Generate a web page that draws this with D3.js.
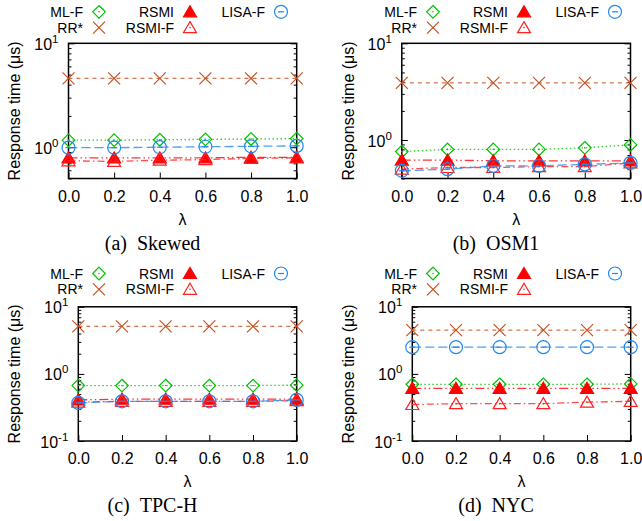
<!DOCTYPE html>
<html><head><meta charset="utf-8">
<script src="https://cdn.jsdelivr.net/npm/d3@7"></script>
<style>body{margin:0;background:#fff}svg{display:block}</style>
</head><body><svg id="c" width="642" height="521"></svg>
<script>
// ---- data ----
const lambdas = [0, 0.2, 0.4, 0.6, 0.8, 1.0];
const xTickLabels = ["0.0", "0.2", "0.4", "0.6", "0.8", "1.0"];
const seriesNames = ["ML-F", "RR*", "RSMI", "RSMI-F", "LISA-F"];
const legendRow1 = ["ML-F", "RSMI", "LISA-F"];
const legendRow2 = ["RR*", "RSMI-F"];
const captionLetters = ["(a)", "(b)", "(c)", "(d)"];
const captionNames = ["Skewed", "OSM1", "TPC-H", "NYC"];
const yTitle = "Response time (μs)";
const xTitle = "λ";

// values per series, in seriesNames order
const skewed = [
  [1.17, 1.17, 1.18, 1.19, 1.20, 1.21],
  [4.6, 4.6, 4.6, 4.6, 4.6, 4.6],
  [0.79, 0.79, 0.79, 0.79, 0.80, 0.80],
  [0.74, 0.73, 0.75, 0.76, 0.78, 0.79],
  [0.99, 0.99, 1.00, 1.01, 1.02, 1.03]
];
const osm1 = [
  [0.76, 0.80, 0.80, 0.80, 0.83, 0.89],
  [3.9, 3.9, 3.9, 3.9, 3.9, 3.9],
  [0.62, 0.62, 0.61, 0.61, 0.61, 0.61],
  [0.50, 0.52, 0.52, 0.53, 0.53, 0.58],
  [0.48, 0.50, 0.54, 0.54, 0.56, 0.58]
];
const tpch = [
  [0.67, 0.67, 0.67, 0.67, 0.67, 0.68],
  [5.1, 5.1, 5.1, 5.1, 5.1, 5.1],
  [0.41, 0.42, 0.42, 0.42, 0.42, 0.42],
  [0.38, 0.39, 0.39, 0.39, 0.39, 0.40],
  [0.37, 0.39, 0.39, 0.39, 0.39, 0.41]
];
const nyc = [
  [0.70, 0.70, 0.70, 0.70, 0.70, 0.71],
  [4.5, 4.5, 4.5, 4.5, 4.5, 4.5],
  [0.61, 0.61, 0.61, 0.61, 0.61, 0.61],
  [0.35, 0.36, 0.36, 0.36, 0.38, 0.39],
  [2.5, 2.5, 2.5, 2.5, 2.5, 2.5]
];
const yDomains = [[0.5, 10], [0.4, 10], [0.1, 10], [0.1, 10]];

// ---- styles ----
const styles = {
  "ML-F":   {color: "#00c000", dash: "1.5,2.5", marker: "diamond"},
  "RR*":    {color: "#c8501e", dash: "4,4", marker: "cross"},
  "RSMI":   {color: "#ff0000", dash: "9,3,1.5,3,1.5,3", marker: "tri"},
  "RSMI-F": {color: "#ff2020", dash: "7,3,1.5,3", marker: "otri"},
  "LISA-F": {color: "#2288ee", dash: "9,4", marker: "circle"}
};
const SANS = "'Liberation Sans', Arial, Helvetica, sans-serif";
const SERIF = "'Liberation Serif', 'Times New Roman', serif";

const svg = d3.select("#c");

function drawMarker(g, type, color, cx, cy) {
  const m = g.append("g").attr("transform", `translate(${cx},${cy})`);
  if (type === "diamond") {
    m.append("path").attr("d", "M0,-6.3L6.3,0L0,6.3L-6.3,0Z").attr("fill", "none").attr("stroke", color).attr("stroke-width", 1.2);
    m.append("circle").attr("r", 0.8).attr("fill", color);
  } else if (type === "cross") {
    m.append("path").attr("d", "M-6,-6L6,6M-6,6L6,-6").attr("fill", "none").attr("stroke", color).attr("stroke-width", 1.2);
  } else if (type === "tri") {
    m.append("path").attr("d", "M0,-6L6.5,5L-6.5,5Z").attr("fill", color).attr("stroke", color).attr("stroke-width", 1.2);
  } else if (type === "otri") {
    m.append("path").attr("d", "M0,-6L6.5,5L-6.5,5Z").attr("fill", "none").attr("stroke", color).attr("stroke-width", 1.2);
    m.append("circle").attr("r", 0.8).attr("fill", color);
  } else if (type === "circle") {
    m.append("circle").attr("r", 6.5).attr("fill", "none").attr("stroke", color).attr("stroke-width", 1.2);
    m.append("path").attr("d", "M-3,0L3,0").attr("stroke", color).attr("stroke-width", 1.2);
  }
}

function drawPanel(idx, data, geo) {
  const g = svg.append("g");
  const x = d3.scaleLinear().domain([0, 1]).range([geo.x0, geo.x1]);
  const y = d3.scaleLog().domain(yDomains[idx]).range([geo.y1, geo.y0]);
  const [lo, hi] = yDomains[idx];
  const majors = [0.1, 1, 10].filter(v => v >= lo - 1e-9 && v <= hi + 1e-9);
  const minors = [];
  [0.1, 1].forEach(dec => { for (let k = 2; k <= 9; k++) { const v = dec * k; if (v >= lo - 1e-9 && v <= hi + 1e-9) minors.push(v); } });

  // axes (ticks only)
  const xa = g.append("g").attr("transform", `translate(0,${geo.y1})`)
    .call(d3.axisBottom(x).tickValues(lambdas).tickSize(-6).tickPadding(12).tickFormat((d, i) => xTickLabels[i]));
  const yl = g.append("g").attr("transform", `translate(${geo.x0},0)`)
    .call(d3.axisLeft(y).tickValues(majors).tickSize(-6).tickFormat(() => ""));
  const ylm = g.append("g").attr("transform", `translate(${geo.x0},0)`)
    .call(d3.axisLeft(y).tickValues(minors).tickSize(-3).tickFormat(() => ""));
  const yr = g.append("g").attr("transform", `translate(${geo.x1},0)`)
    .call(d3.axisRight(y).tickValues(majors).tickSize(-6).tickFormat(() => ""));
  const yrm = g.append("g").attr("transform", `translate(${geo.x1},0)`)
    .call(d3.axisRight(y).tickValues(minors).tickSize(-3).tickFormat(() => ""));
  [xa, yl, ylm, yr, yrm].forEach(a => {
    a.select(".domain").remove();
    a.selectAll("line").attr("stroke", "#000").attr("stroke-width", 1);
  });
  xa.selectAll("text").attr("font-family", SANS).attr("font-size", 16).attr("fill", "#000");

  // y tick labels with superscripts
  majors.forEach(v => {
    const e = Math.round(Math.log10(v));
    const t = g.append("text").attr("x", geo.x0 - 10).attr("y", y(v) + 6.5)
      .attr("text-anchor", "end").attr("font-family", SANS).attr("font-size", 16).attr("fill", "#000");
    t.append("tspan").text("10");
    t.append("tspan").attr("dy", -7).attr("font-size", 11.5).text(String(e));
  });

  // border
  g.append("rect").attr("x", geo.x0).attr("y", geo.y0)
    .attr("width", geo.x1 - geo.x0).attr("height", geo.y1 - geo.y0)
    .attr("fill", "none").attr("stroke", "#000").attr("stroke-width", 1.5);

  // series
  const line = d3.line().x((d, i) => x(lambdas[i])).y(d => y(d));
  seriesNames.forEach((name, si) => {
    const st = styles[name];
    g.append("path").datum(data[si]).attr("d", line)
      .attr("fill", "none").attr("stroke", st.color).attr("stroke-width", 1.3)
      .attr("stroke-dasharray", st.dash).attr("stroke-opacity", 0.8);
    data[si].forEach((v, i) => drawMarker(g, st.marker, st.color, x(lambdas[i]), y(v)));
  });

  // legend
  const mx = [geo.lx + 99, geo.lx + 190, geo.lx + 281];
  const rows = [legendRow1, legendRow2];
  rows.forEach((row, ri) => {
    const ry = geo.ly + 11.8 + ri * 15.8;
    row.forEach((name, ci) => {
      g.append("text").attr("x", mx[ci] - 16).attr("y", ry + 5)
        .attr("text-anchor", "end").attr("font-family", SANS).attr("font-size", 14).attr("fill", "#000").text(name);
      drawMarker(g, styles[name].marker, styles[name].color, mx[ci], ry);
    });
  });

  // axis titles
  const ymid = (geo.y0 + geo.y1) / 2;
  g.append("text").attr("transform", `translate(${geo.ytx},${ymid}) rotate(-90)`)
    .attr("text-anchor", "middle").attr("dy", "0.35em").attr("font-family", SANS).attr("font-size", 16).attr("fill", "#000").text(yTitle);
  g.append("text").attr("x", (geo.x0 + geo.x1) / 2).attr("y", geo.y1 + 46)
    .attr("text-anchor", "middle").attr("font-family", SANS).attr("font-size", 16).attr("fill", "#000").text(xTitle);

  // caption
  const cap = g.append("text").attr("x", geo.capx).attr("y", geo.y1 + 71)
    .attr("text-anchor", "middle").attr("font-family", SERIF).attr("font-size", 20).attr("fill", "#000");
  cap.append("tspan").text(captionLetters[idx]);
  cap.append("tspan").attr("dx", 10).text(captionNames[idx]);
}

const geos = [
  {x0: 68.5, x1: 296.7, y0: 43.3, y1: 178.5, lx: 0, ly: 0, ytx: 14.5, capx: 152.5},
  {x0: 401.8, x1: 630.5, y0: 43.3, y1: 178.5, lx: 334, ly: 0, ytx: 348, capx: 496},
  {x0: 78.3, x1: 296.7, y0: 306.8, y1: 441, lx: 0, ly: 261.7, ytx: 14.5, capx: 152.5},
  {x0: 412.3, x1: 630.7, y0: 306.8, y1: 441, lx: 334, ly: 261.7, ytx: 348, capx: 496}
];
[skewed, osm1, tpch, nyc].forEach((d, i) => drawPanel(i, d, geos[i]));
</script></body></html>
